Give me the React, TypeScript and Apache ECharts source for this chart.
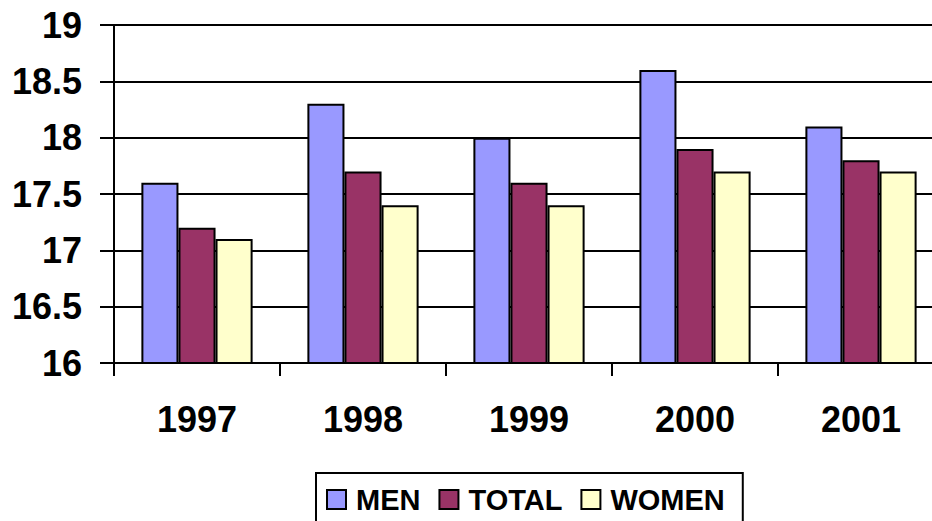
import React, { useEffect, useRef } from "react";
import * as echarts from "echarts";

const categories = ["1997", "1998", "1999", "2000", "2001"];
const men = [17.6, 18.3, 18.0, 18.6, 18.1];
const total = [17.2, 17.7, 17.6, 17.9, 17.8];
const women = [17.1, 17.4, 17.4, 17.7, 17.7];
const seriesNames = ["MEN", "TOTAL", "WOMEN"];
const colors = ["#9999FF", "#993366", "#FFFFCC"];

const FONT = "'Liberation Sans', Arial, sans-serif";

export default function App() {
  const ref = useRef<HTMLDivElement>(null);
  useEffect(() => {
    document.body.style.margin = "0";
    const chart = echarts.init(ref.current!, undefined, { renderer: "svg" });
    const data = [men, total, women];
    chart.setOption({
      animation: false,
      backgroundColor: "#ffffff",
      grid: { left: 114, top: 25, right: 0, height: 338, containLabel: false },
      legend: {
        data: seriesNames,
        left: 316,
        top: 473,
        orient: "horizontal",
        icon: "rect",
        itemWidth: 19,
        itemHeight: 19,
        itemGap: 18,
        padding: [12, 18, 30, 10],
        borderColor: "#000",
        borderWidth: 2,
        itemStyle: { borderColor: "#000", borderWidth: 2 },
        textStyle: {
          fontFamily: FONT,
          fontWeight: "bold",
          fontSize: 29,
          color: "#000",
          padding: [0, 0, 0, 5],
        },
      },
      xAxis: {
        type: "category",
        data: categories,
        axisLine: { lineStyle: { color: "#000", width: 2 } },
        axisTick: { show: true, length: 13, lineStyle: { color: "#000", width: 2 } },
        axisLabel: {
          fontFamily: FONT,
          fontWeight: "bold",
          fontSize: 36,
          color: "#000",
          margin: 38,
        },
      },
      yAxis: {
        type: "value",
        min: 16,
        max: 19,
        interval: 0.5,
        axisLine: { show: true, lineStyle: { color: "#000", width: 2 } },
        axisTick: { show: true, length: 14, lineStyle: { color: "#000", width: 2 } },
        splitLine: { show: true, lineStyle: { color: "#000", width: 2 } },
        axisLabel: {
          fontFamily: FONT,
          fontWeight: "bold",
          fontSize: 36,
          color: "#000",
          margin: 32,
        },
      },
      series: seriesNames.map((name, i) => ({
        name,
        type: "bar",
        data: data[i],
        barGap: "0%",
        barCategoryGap: "33%",
        itemStyle: { color: colors[i], borderColor: "#000", borderWidth: 2 },
      })),
    });
    return () => chart.dispose();
  }, []);
  return (
    <div style={{ width: 932, height: 521, overflow: "hidden" }}>
      <div ref={ref} style={{ width: 944, height: 521 }} />
    </div>
  );
}
